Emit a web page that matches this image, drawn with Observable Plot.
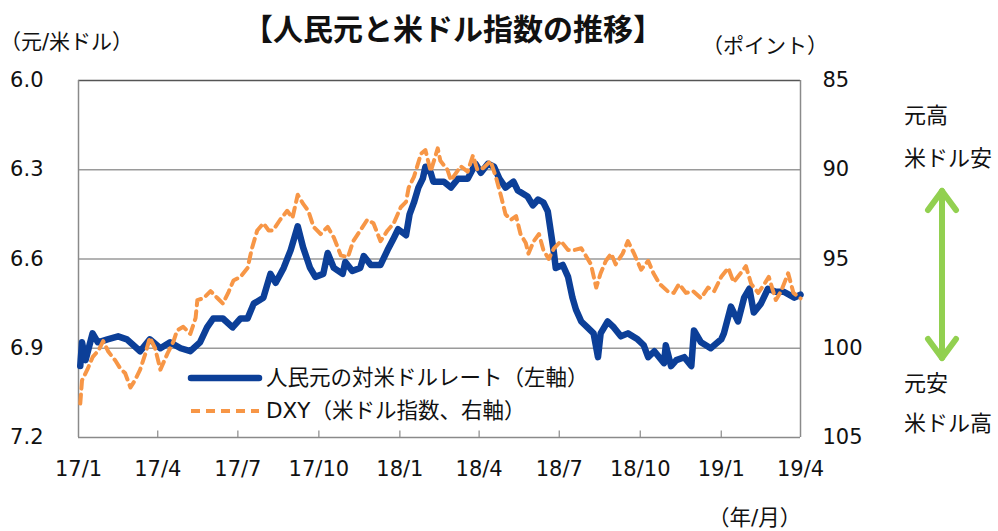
<!DOCTYPE html>
<html><head><meta charset="utf-8">
<script src="https://cdn.jsdelivr.net/npm/d3@7"></script>
<script src="https://cdn.jsdelivr.net/npm/@observablehq/plot@0.6"></script>
<style>
body{margin:0;background:#fff;}
#wrap{position:relative;width:998px;height:531px;font-family:"DejaVu Sans","Noto Sans CJK JP",sans-serif;color:#111;}
.t{position:absolute;white-space:nowrap;line-height:1;}
</style></head>
<body><div id="wrap"></div>
<script>
// ---- data ----
const cnyDates = ["2017-01-03","2017-01-05","2017-01-09","2017-01-17","2017-01-23","2017-02-03","2017-02-15","2017-02-25","2017-03-12","2017-03-23","2017-04-04","2017-04-15","2017-04-27","2017-05-08","2017-05-19","2017-05-27","2017-06-03","2017-06-14","2017-06-25","2017-07-04","2017-07-12","2017-07-19","2017-07-30","2017-08-07","2017-08-13","2017-08-22","2017-08-30","2017-09-07","2017-09-13","2017-09-21","2017-09-27","2017-10-06","2017-10-11","2017-10-18","2017-10-28","2017-10-31","2017-11-08","2017-11-17","2017-11-21","2017-11-29","2017-12-10","2017-12-18","2017-12-25","2017-12-30","2018-01-08","2018-01-12","2018-01-17","2018-01-22","2018-01-27","2018-01-30","2018-02-05","2018-02-08","2018-02-20","2018-02-28","2018-03-08","2018-03-19","2018-03-28","2018-04-03","2018-04-11","2018-04-18","2018-04-24","2018-05-01","2018-05-10","2018-05-15","2018-05-26","2018-06-01","2018-06-07","2018-06-13","2018-06-18","2018-06-21","2018-06-25","2018-06-27","2018-07-05","2018-07-11","2018-07-16","2018-07-20","2018-07-26","2018-08-02","2018-08-09","2018-08-14","2018-08-17","2018-08-25","2018-09-01","2018-09-09","2018-09-17","2018-09-28","2018-10-05","2018-10-10","2018-10-17","2018-10-28","2018-10-30","2018-11-05","2018-11-11","2018-11-20","2018-11-28","2018-12-01","2018-12-09","2018-12-20","2019-01-01","2019-01-04","2019-01-12","2019-01-20","2019-01-27","2019-02-02","2019-02-07","2019-02-15","2019-02-23","2019-03-04","2019-03-13","2019-03-25","2019-04-01"];
const cnyValues = [6.96,6.88,6.94,6.85,6.88,6.87,6.86,6.87,6.91,6.87,6.90,6.88,6.90,6.91,6.88,6.83,6.80,6.80,6.83,6.80,6.80,6.75,6.73,6.65,6.68,6.63,6.57,6.49,6.56,6.63,6.66,6.65,6.58,6.63,6.65,6.61,6.64,6.63,6.59,6.62,6.62,6.57,6.53,6.50,6.52,6.45,6.41,6.36,6.33,6.29,6.31,6.34,6.34,6.36,6.33,6.33,6.28,6.31,6.28,6.29,6.33,6.36,6.34,6.37,6.39,6.42,6.40,6.41,6.44,6.50,6.58,6.63,6.62,6.66,6.73,6.77,6.81,6.83,6.85,6.93,6.85,6.81,6.83,6.86,6.85,6.87,6.89,6.93,6.91,6.95,6.89,6.96,6.94,6.93,6.96,6.84,6.88,6.90,6.87,6.85,6.76,6.81,6.73,6.70,6.78,6.75,6.70,6.71,6.71,6.73,6.72];

const dxyDates = ["2017-01-03","2017-01-05","2017-01-11","2017-01-17","2017-01-24","2017-01-29","2017-02-04","2017-02-12","2017-02-17","2017-02-23","2017-03-01","2017-03-06","2017-03-12","2017-03-18","2017-03-23","2017-03-29","2017-04-04","2017-04-12","2017-04-19","2017-04-23","2017-04-30","2017-05-08","2017-05-14","2017-05-16","2017-05-23","2017-05-31","2017-06-08","2017-06-14","2017-06-20","2017-06-26","2017-07-04","2017-07-12","2017-07-17","2017-07-23","2017-07-30","2017-08-05","2017-08-10","2017-08-18","2017-08-26","2017-09-01","2017-09-07","2017-09-13","2017-09-19","2017-09-25","2017-10-03","2017-10-11","2017-10-18","2017-10-26","2017-11-03","2017-11-09","2017-11-17","2017-11-25","2017-12-02","2017-12-10","2017-12-18","2017-12-25","2018-01-02","2018-01-08","2018-01-11","2018-01-17","2018-01-25","2018-01-30","2018-02-05","2018-02-13","2018-02-16","2018-02-24","2018-02-28","2018-03-11","2018-03-19","2018-03-25","2018-03-30","2018-04-06","2018-04-14","2018-04-20","2018-04-26","2018-05-01","2018-05-07","2018-05-13","2018-05-18","2018-05-24","2018-05-27","2018-06-02","2018-06-08","2018-06-13","2018-06-19","2018-06-25","2018-07-03","2018-07-11","2018-07-18","2018-07-26","2018-07-31","2018-08-06","2018-08-12","2018-08-17","2018-08-23","2018-08-29","2018-09-03","2018-09-11","2018-09-17","2018-09-24","2018-10-02","2018-10-10","2018-10-16","2018-10-23","2018-11-01","2018-11-08","2018-11-14","2018-11-22","2018-11-30","2018-12-09","2018-12-17","2018-12-24","2019-01-01","2019-01-09","2019-01-15","2019-01-23","2019-01-29","2019-02-04","2019-02-12","2019-02-19","2019-02-24","2019-03-04","2019-03-10","2019-03-18","2019-03-24","2019-04-01"];
const dxyValues = [103.1,101.8,101.2,100.5,100.1,99.6,100.2,100.7,101.1,101.4,102.2,101.8,101.2,100.3,99.4,100.0,101.2,100.3,99.6,99.0,98.8,99.2,98.3,97.3,97.2,96.8,97.2,97.5,96.9,96.2,96.0,95.5,94.4,93.4,93.0,93.4,93.4,92.8,92.3,92.7,91.4,91.9,92.3,93.2,93.6,93.2,93.8,94.8,94.9,94.0,93.4,92.8,93.0,94.0,93.4,93.0,92.1,91.8,91.0,90.4,89.1,88.9,90.1,88.8,89.5,90.0,90.6,89.8,90.1,89.2,90.0,89.9,89.5,90.4,91.5,92.5,92.8,92.6,93.6,94.1,94.7,94.0,93.6,94.5,95.0,94.4,94.0,94.5,94.5,94.4,94.8,95.3,96.6,95.8,95.1,94.7,95.3,94.7,94.0,94.7,95.6,95.1,95.8,96.4,96.8,96.9,96.4,96.9,96.8,97.2,96.6,96.8,96.0,95.5,96.3,95.8,95.4,96.4,96.9,96.4,96.0,97.3,96.8,95.8,96.9,97.2];

const leftTicks = [6.0, 6.3, 6.6, 6.9, 7.2];
const rightTicks = [85, 90, 95, 100, 105];
const xTickDates = ["2017-01-01","2017-04-01","2017-07-01","2017-10-01","2018-01-01","2018-04-01","2018-07-01","2018-10-01","2019-01-01","2019-04-01"];
const xTickLabels = ["17/1","17/4","17/7","17/10","18/1","18/4","18/7","18/10","19/1","19/4"];

const titleText = "【人民元と米ドル指数の推移】";
const leftUnit = "（元/米ドル）";
const rightUnit = "（ポイント）";
const xUnit = "（年/月）";
const seriesNames = ["人民元の対米ドルレート（左軸）", "DXY（米ドル指数、右軸）"];
const noteTop = ["元高", "米ドル安"];
const noteBottom = ["元安", "米ドル高"];

// ---- build ----
const BLUE = "#0C3F98", ORANGE = "#F79646", GREEN = "#92D050";
const L0 = 6.0, L1 = 7.2, R0 = 85, R1 = 105;
const toL = r => L0 + (r - R0) / (R1 - R0) * (L1 - L0);
const fromL = l => R0 + (l - L0) / (L1 - L0) * (R1 - R0);

const cny = cnyDates.map((d, i) => ({date: new Date(d), v: cnyValues[i]}));
const dxy = dxyDates.map((d, i) => ({date: new Date(d), v: toL(dxyValues[i])}));
const xt = xTickDates.map(d => new Date(d));
const labelMap = new Map(xt.map((d, i) => [+d, xTickLabels[i]]));
const tickLen = 0.022;

const chart = Plot.plot({
  width: 998, height: 531,
  marginLeft: 78, marginRight: 198, marginTop: 80, marginBottom: 94,
  style: {fontFamily: '"DejaVu Sans","Noto Sans CJK JP",sans-serif', fontSize: "21px", color: "#111", background: "transparent"},
  x: {type: "utc", domain: [xt[0], xt[xt.length - 1]]},
  y: {domain: [L0, L1], reverse: true},
  marks: [
    Plot.gridY(leftTicks.slice(1, -1), {stroke: "#9a9a9a", strokeOpacity: 1, strokeWidth: 1.5}),
    Plot.ruleY([L0], {stroke: "#555", strokeWidth: 1.5}),
    Plot.ruleY([L1], {stroke: "#8a8a8a", strokeWidth: 1.5}),
    Plot.ruleX([xt[0], xt[xt.length - 1]], {stroke: "#8a8a8a", strokeWidth: 1.5}),
    Plot.ruleX(xt.slice(1, -1), {x: d => d, y1: L1, y2: L1 - tickLen, stroke: "#8a8a8a", strokeWidth: 1.2}),
    Plot.axisY({anchor: "left", ticks: leftTicks, tickFormat: d => d.toFixed(1), tickSize: 0, tickPadding: 35, label: null, fontSize: 21}),
    Plot.axisY({anchor: "right", ticks: rightTicks.map(toL), tickFormat: d => String(Math.round(fromL(d))), tickSize: 0, tickPadding: 22, label: null, fontSize: 21}),
    Plot.axisX({ticks: xt, tickFormat: d => labelMap.get(+d), tickSize: 0, tickPadding: 24, label: null, fontSize: 21}),
    Plot.line(cny, {x: "date", y: "v", stroke: BLUE, strokeWidth: 6.5, strokeLinejoin: "round", strokeLinecap: "round"}),
    Plot.line(dxy, {x: "date", y: "v", stroke: ORANGE, strokeWidth: 4, strokeDasharray: "9,6"})
  ]
});
chart.style.position = "absolute";
chart.style.left = "0px";
chart.style.top = "0px";
const wrap = document.getElementById("wrap");
wrap.appendChild(chart);

function addText(txt, x, y, size, opts = {}) {
  const el = document.createElement("div");
  el.className = "t";
  el.textContent = txt;
  el.style.fontSize = size + "px";
  el.style.left = x + "px";
  el.style.top = y + "px";
  if (opts.bold) el.style.fontWeight = "bold";
  if (opts.cjk) el.style.fontFamily = '"Noto Sans CJK JP",sans-serif';
  if (opts.center) el.style.transform = "translate(-50%,-50%)";
  else el.style.transform = "translate(0,-50%)";
  wrap.appendChild(el);
  return el;
}
addText(titleText, 453, 27, 30, {bold: true, center: true, cjk: true});
addText(leftUnit, 0, 42, 21);
addText(rightUnit, 702, 46, 21);
addText(xUnit, 708, 518, 21.5);
addText(noteTop[0], 904, 113, 22, {cjk: true});
addText(noteTop[1], 904, 156, 22, {cjk: true});
addText(noteBottom[0], 904, 381, 22, {cjk: true});
addText(noteBottom[1], 904, 421, 22, {cjk: true});
addText(seriesNames[0], 266, 378, 21.5);
addText(seriesNames[1], 266, 411, 21.5);

// legend swatches + arrow (decoration)
const ns = "http://www.w3.org/2000/svg";
const deco = document.createElementNS(ns, "svg");
deco.setAttribute("width", 998); deco.setAttribute("height", 531);
deco.style.position = "absolute"; deco.style.left = "0"; deco.style.top = "0";
function ln(x1, y1, x2, y2, attrs) {
  const l = document.createElementNS(ns, "line");
  l.setAttribute("x1", x1); l.setAttribute("y1", y1); l.setAttribute("x2", x2); l.setAttribute("y2", y2);
  for (const k in attrs) l.setAttribute(k, attrs[k]);
  deco.appendChild(l);
}
ln(191, 378, 259, 378, {stroke: BLUE, "stroke-width": 6.5, "stroke-linecap": "round"});
ln(191, 411, 259, 411, {stroke: ORANGE, "stroke-width": 4, "stroke-dasharray": "9,6"});
const ga = {stroke: GREEN, "stroke-width": 6, "stroke-linecap": "round", "stroke-linejoin": "round"};
ln(942, 193, 942, 356, ga);
ln(942, 191, 928, 210, ga); ln(942, 191, 956, 210, ga);
ln(942, 358, 928, 339, ga); ln(942, 358, 956, 339, ga);
wrap.appendChild(deco);
</script>
</body></html>
